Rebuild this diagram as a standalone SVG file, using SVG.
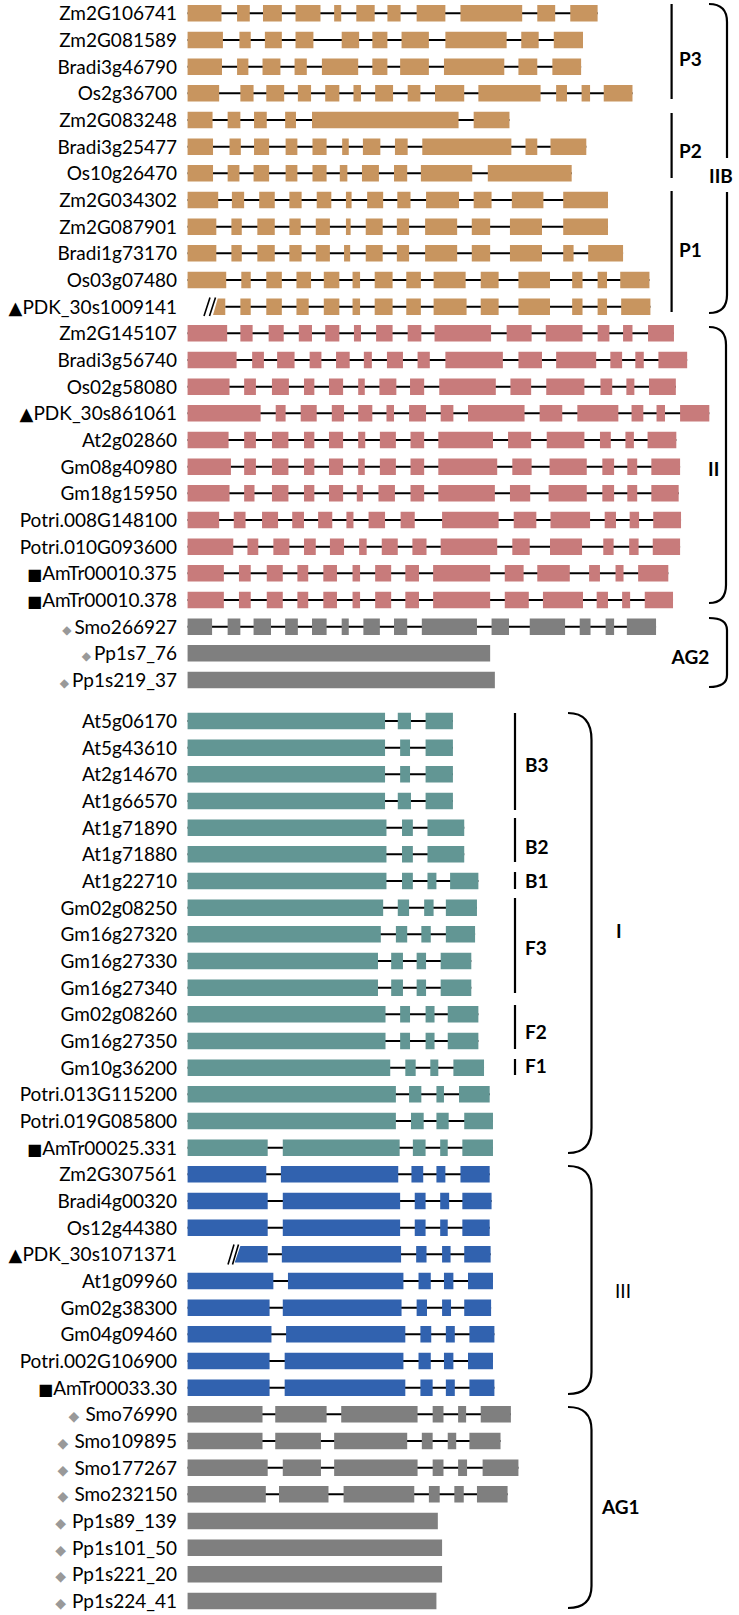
<svg xmlns="http://www.w3.org/2000/svg" width="739" height="1615" viewBox="0 0 739 1615">
<style>
text{font-family:Lato,"Liberation Sans",sans-serif;font-size:19px;fill:#000}
.nm{text-anchor:end}
.lb{font-weight:bold;text-anchor:start}
.lbn{text-anchor:start}
.in{fill:none;stroke:#000;stroke-width:2}
.tan .ex{fill:#C8955F}
.pink .ex{fill:#C87B7B}
.grey .ex{fill:#7F7F7F}
.teal .ex{fill:#629694}
.blue .ex{fill:#3162AF}
.br{fill:none;stroke:#000;stroke-width:2.2}
.sl{fill:none;stroke:#000;stroke-width:1.6}
.tri,.sq{font-family:"DejaVu Sans",sans-serif;font-size:18px}
.sq{font-size:16px}
.dia{font-family:"DejaVu Sans",sans-serif;font-size:12px;fill:#999}
.dia2{font-family:"DejaVu Sans",sans-serif;font-size:14px;fill:#999}
</style>
<rect width="739" height="1615" fill="#fff"/>

<g id="g-Zm2G106741" class="tan"><text class="nm" x="177" y="20.3">Zm2G106741</text><g transform="translate(0 13.3) scale(.4713 1)"><path class="in" d="M398 0H1268"/><path class="ex" d="M398-8.3H470V8.3H398Z M503-8.3H530V8.3H503Z M558-8.3H598V8.3H558Z M627-8.3H680V8.3H627Z M709-8.3H724V8.3H709Z M756-8.3H795V8.3H756Z M822-8.3H850V8.3H822Z M884-8.3H945V8.3H884Z M977-8.3H1108V8.3H977Z M1140-8.3H1178V8.3H1140Z M1210-8.3H1268V8.3H1210Z"/></g></g>
<g id="g-Zm2G081589" class="tan"><text class="nm" x="177" y="47">Zm2G081589</text><g transform="translate(0 40) scale(.4713 1)"><path class="in" d="M398 0H1237"/><path class="ex" d="M398-8.3H473V8.3H398Z M508-8.3H532V8.3H508Z M562-8.3H598V8.3H562Z M627-8.3H665V8.3H627Z M725-8.3H762V8.3H725Z M790-8.3H822V8.3H790Z M852-8.3H910V8.3H852Z M945-8.3H1075V8.3H945Z M1106-8.3H1143V8.3H1106Z M1175-8.3H1237V8.3H1175Z"/></g></g>
<g id="g-Bradi3g46790" class="tan"><text class="nm" x="177" y="73.7">Bradi3g46790</text><g transform="translate(0 66.7) scale(.4713 1)"><path class="in" d="M398 0H1233"/><path class="ex" d="M398-8.3H471V8.3H398Z M503-8.3H527V8.3H503Z M557-8.3H595V8.3H557Z M625-8.3H651V8.3H625Z M683-8.3H760V8.3H683Z M790-8.3H822V8.3H790Z M849-8.3H910V8.3H849Z M942-8.3H1070V8.3H942Z M1100-8.3H1140V8.3H1100Z M1172-8.3H1233V8.3H1172Z"/></g></g>
<g id="g-Os2g36700" class="tan"><text class="nm" x="177" y="100.3">Os2g36700</text><g transform="translate(0 93.3) scale(.4713 1)"><path class="in" d="M398 0H1342"/><path class="ex" d="M398-8.3H465V8.3H398Z M510-8.3H538V8.3H510Z M565-8.3H603V8.3H565Z M632-8.3H660V8.3H632Z M690-8.3H720V8.3H690Z M750-8.3H766V8.3H750Z M796-8.3H834V8.3H796Z M865-8.3H892V8.3H865Z M923-8.3H985V8.3H923Z M1015-8.3H1147V8.3H1015Z M1180-8.3H1203V8.3H1180Z M1234-8.3H1252V8.3H1234Z M1281-8.3H1342V8.3H1281Z"/></g></g>
<g id="g-Zm2G083248" class="tan"><text class="nm" x="177" y="127">Zm2G083248</text><g transform="translate(0 120) scale(.4713 1)"><path class="in" d="M398 0H1081"/><path class="ex" d="M398-8.3H451V8.3H398Z M483-8.3H510V8.3H483Z M539-8.3H566V8.3H539Z M605-8.3H628V8.3H605Z M662-8.3H973V8.3H662Z M1005-8.3H1081V8.3H1005Z"/></g></g>
<g id="g-Bradi3g25477" class="tan"><text class="nm" x="177" y="153.7">Bradi3g25477</text><g transform="translate(0 146.7) scale(.4713 1)"><path class="in" d="M398 0H1244"/><path class="ex" d="M398-8.3H452V8.3H398Z M487-8.3H511V8.3H487Z M539-8.3H571V8.3H539Z M606-8.3H631V8.3H606Z M663-8.3H693V8.3H663Z M726-8.3H740V8.3H726Z M770-8.3H807V8.3H770Z M838-8.3H865V8.3H838Z M896-8.3H1085V8.3H896Z M1115-8.3H1140V8.3H1115Z M1168-8.3H1244V8.3H1168Z"/></g></g>
<g id="g-Os10g26470" class="tan"><text class="nm" x="177" y="180.3">Os10g26470</text><g transform="translate(0 173.3) scale(.4713 1)"><path class="in" d="M398 0H1213"/><path class="ex" d="M398-8.3H452V8.3H398Z M483-8.3H508V8.3H483Z M538-8.3H571V8.3H538Z M606-8.3H631V8.3H606Z M663-8.3H693V8.3H663Z M721-8.3H737V8.3H721Z M768-8.3H804V8.3H768Z M836-8.3H864V8.3H836Z M893-8.3H1002V8.3H893Z M1035-8.3H1213V8.3H1035Z"/></g></g>
<g id="g-Zm2G034302" class="tan"><text class="nm" x="177" y="207">Zm2G034302</text><g transform="translate(0 200) scale(.4713 1)"><path class="in" d="M398 0H1290"/><path class="ex" d="M398-8.3H463V8.3H398Z M492-8.3H518V8.3H492Z M550-8.3H583V8.3H550Z M614-8.3H640V8.3H614Z M672-8.3H703V8.3H672Z M734-8.3H746V8.3H734Z M779-8.3H813V8.3H779Z M843-8.3H871V8.3H843Z M904-8.3H974V8.3H904Z M1005-8.3H1043V8.3H1005Z M1086-8.3H1153V8.3H1086Z M1195-8.3H1290V8.3H1195Z"/></g></g>
<g id="g-Zm2G087901" class="tan"><text class="nm" x="177" y="233.7">Zm2G087901</text><g transform="translate(0 226.7) scale(.4713 1)"><path class="in" d="M398 0H1290"/><path class="ex" d="M398-8.3H459V8.3H398Z M491-8.3H513V8.3H491Z M546-8.3H583V8.3H546Z M614-8.3H638V8.3H614Z M670-8.3H700V8.3H670Z M734-8.3H744V8.3H734Z M776-8.3H812V8.3H776Z M842-8.3H868V8.3H842Z M902-8.3H970V8.3H902Z M1001-8.3H1040V8.3H1001Z M1082-8.3H1150V8.3H1082Z M1195-8.3H1290V8.3H1195Z"/></g></g>
<g id="g-Bradi1g73170" class="tan"><text class="nm" x="177" y="260.3">Bradi1g73170</text><g transform="translate(0 253.3) scale(.4713 1)"><path class="in" d="M398 0H1322"/><path class="ex" d="M398-8.3H459V8.3H398Z M491-8.3H513V8.3H491Z M546-8.3H583V8.3H546Z M614-8.3H640V8.3H614Z M670-8.3H700V8.3H670Z M730-8.3H743V8.3H730Z M776-8.3H812V8.3H776Z M842-8.3H868V8.3H842Z M902-8.3H970V8.3H902Z M1001-8.3H1040V8.3H1001Z M1082-8.3H1150V8.3H1082Z M1195-8.3H1217V8.3H1195Z M1248-8.3H1322V8.3H1248Z"/></g></g>
<g id="g-Os03g07480" class="tan"><text class="nm" x="177" y="287">Os03g07480</text><g transform="translate(0 280) scale(.4713 1)"><path class="in" d="M398 0H1378"/><path class="ex" d="M398-8.3H480V8.3H398Z M512-8.3H532V8.3H512Z M565-8.3H598V8.3H565Z M629-8.3H660V8.3H629Z M687-8.3H720V8.3H687Z M748-8.3H764V8.3H748Z M795-8.3H833V8.3H795Z M862-8.3H893V8.3H862Z M920-8.3H988V8.3H920Z M1020-8.3H1058V8.3H1020Z M1100-8.3H1167V8.3H1100Z M1214-8.3H1236V8.3H1214Z M1268-8.3H1288V8.3H1268Z M1316-8.3H1378V8.3H1316Z"/></g></g>
<g id="g-PDK_30s1009141" class="tan"><text class="nm" x="177" y="313.7"><tspan class="tri">▲</tspan>PDK_30s1009141</text><path class="sl" d="M204 316L210 297.5M209.5 316L215.5 297.5"/><g transform="translate(0 306.7) scale(.4713 1)"><path class="in" d="M478 0H1380"/><path class="ex" d="M452 8.3L462-8.3H478V8.3Z M510-8.3H532V8.3H510Z M565-8.3H598V8.3H565Z M629-8.3H655V8.3H629Z M687-8.3H720V8.3H687Z M748-8.3H764V8.3H748Z M795-8.3H833V8.3H795Z M862-8.3H893V8.3H862Z M920-8.3H990V8.3H920Z M1020-8.3H1058V8.3H1020Z M1100-8.3H1167V8.3H1100Z M1214-8.3H1236V8.3H1214Z M1268-8.3H1288V8.3H1268Z M1318-8.3H1380V8.3H1318Z"/></g></g>

<g id="g-Zm2G145107" class="pink"><text class="nm" x="177" y="340.3">Zm2G145107</text><g transform="translate(0 333.3) scale(.4713 1)"><path class="in" d="M398 0H1430"/><path class="ex" d="M398-8.3H482V8.3H398Z M510-8.3H536V8.3H510Z M570-8.3H602V8.3H570Z M634-8.3H662V8.3H634Z M690-8.3H720V8.3H690Z M751-8.3H766V8.3H751Z M798-8.3H833V8.3H798Z M865-8.3H894V8.3H865Z M922-8.3H1042V8.3H922Z M1075-8.3H1128V8.3H1075Z M1158-8.3H1236V8.3H1158Z M1268-8.3H1293V8.3H1268Z M1322-8.3H1342V8.3H1322Z M1375-8.3H1430V8.3H1375Z"/></g></g>
<g id="g-Bradi3g56740" class="pink"><text class="nm" x="177" y="367">Bradi3g56740</text><g transform="translate(0 360) scale(.4713 1)"><path class="in" d="M398 0H1458"/><path class="ex" d="M398-8.3H502V8.3H398Z M535-8.3H560V8.3H535Z M588-8.3H625V8.3H588Z M657-8.3H682V8.3H657Z M713-8.3H742V8.3H713Z M772-8.3H789V8.3H772Z M821-8.3H855V8.3H821Z M886-8.3H912V8.3H886Z M945-8.3H1067V8.3H945Z M1100-8.3H1150V8.3H1100Z M1180-8.3H1265V8.3H1180Z M1295-8.3H1320V8.3H1295Z M1348-8.3H1366V8.3H1348Z M1397-8.3H1458V8.3H1397Z"/></g></g>
<g id="g-Os02g58080" class="pink"><text class="nm" x="177" y="393.7">Os02g58080</text><g transform="translate(0 386.7) scale(.4713 1)"><path class="in" d="M398 0H1434"/><path class="ex" d="M398-8.3H487V8.3H398Z M518-8.3H543V8.3H518Z M577-8.3H613V8.3H577Z M645-8.3H667V8.3H645Z M698-8.3H728V8.3H698Z M760-8.3H774V8.3H760Z M805-8.3H841V8.3H805Z M870-8.3H900V8.3H870Z M932-8.3H1052V8.3H932Z M1083-8.3H1127V8.3H1083Z M1159-8.3H1240V8.3H1159Z M1274-8.3H1299V8.3H1274Z M1329-8.3H1346V8.3H1329Z M1377-8.3H1434V8.3H1377Z"/></g></g>
<g id="g-PDK_30s861061" class="pink"><text class="nm" x="177" y="420.3"><tspan class="tri">▲</tspan>PDK_30s861061</text><g transform="translate(0 413.3) scale(.4713 1)"><path class="in" d="M398 0H1505"/><path class="ex" d="M398-8.3H553V8.3H398Z M585-8.3H606V8.3H585Z M638-8.3H672V8.3H638Z M704-8.3H730V8.3H704Z M760-8.3H790V8.3H760Z M820-8.3H836V8.3H820Z M868-8.3H904V8.3H868Z M935-8.3H962V8.3H935Z M993-8.3H1113V8.3H993Z M1145-8.3H1193V8.3H1145Z M1225-8.3H1312V8.3H1225Z M1340-8.3H1365V8.3H1340Z M1393-8.3H1411V8.3H1393Z M1443-8.3H1505V8.3H1443Z"/></g></g>
<g id="g-At2g02860" class="pink"><text class="nm" x="177" y="447">At2g02860</text><g transform="translate(0 440) scale(.4713 1)"><path class="in" d="M398 0H1435"/><path class="ex" d="M398-8.3H485V8.3H398Z M518-8.3H543V8.3H518Z M577-8.3H612V8.3H577Z M645-8.3H667V8.3H645Z M698-8.3H728V8.3H698Z M760-8.3H775V8.3H760Z M806-8.3H840V8.3H806Z M871-8.3H900V8.3H871Z M930-8.3H1046V8.3H930Z M1078-8.3H1127V8.3H1078Z M1160-8.3H1240V8.3H1160Z M1273-8.3H1296V8.3H1273Z M1327-8.3H1345V8.3H1327Z M1374-8.3H1435V8.3H1374Z"/></g></g>
<g id="g-Gm08g40980" class="pink"><text class="nm" x="177" y="473.7">Gm08g40980</text><g transform="translate(0 466.7) scale(.4713 1)"><path class="in" d="M398 0H1443"/><path class="ex" d="M398-8.3H490V8.3H398Z M518-8.3H543V8.3H518Z M577-8.3H612V8.3H577Z M645-8.3H667V8.3H645Z M698-8.3H728V8.3H698Z M760-8.3H774V8.3H760Z M806-8.3H840V8.3H806Z M871-8.3H900V8.3H871Z M930-8.3H1055V8.3H930Z M1087-8.3H1128V8.3H1087Z M1166-8.3H1245V8.3H1166Z M1278-8.3H1303V8.3H1278Z M1331-8.3H1352V8.3H1331Z M1382-8.3H1443V8.3H1382Z"/></g></g>
<g id="g-Gm18g15950" class="pink"><text class="nm" x="177" y="500.3">Gm18g15950</text><g transform="translate(0 493.3) scale(.4713 1)"><path class="in" d="M398 0H1440"/><path class="ex" d="M398-8.3H487V8.3H398Z M518-8.3H540V8.3H518Z M577-8.3H612V8.3H577Z M645-8.3H667V8.3H645Z M698-8.3H728V8.3H698Z M757-8.3H770V8.3H757Z M803-8.3H838V8.3H803Z M871-8.3H900V8.3H871Z M930-8.3H1050V8.3H930Z M1082-8.3H1125V8.3H1082Z M1164-8.3H1245V8.3H1164Z M1278-8.3H1303V8.3H1278Z M1331-8.3H1352V8.3H1331Z M1382-8.3H1440V8.3H1382Z"/></g></g>
<g id="g-Potri-008G148100" class="pink"><text class="nm" x="177" y="527">Potri.008G148100</text><g transform="translate(0 520) scale(.4713 1)"><path class="in" d="M398 0H1445"/><path class="ex" d="M398-8.3H465V8.3H398Z M496-8.3H521V8.3H496Z M556-8.3H590V8.3H556Z M620-8.3H645V8.3H620Z M675-8.3H705V8.3H675Z M735-8.3H750V8.3H735Z M782-8.3H817V8.3H782Z M850-8.3H880V8.3H850Z M938-8.3H1058V8.3H938Z M1090-8.3H1138V8.3H1090Z M1168-8.3H1252V8.3H1168Z M1283-8.3H1307V8.3H1283Z M1336-8.3H1356V8.3H1336Z M1386-8.3H1445V8.3H1386Z"/></g></g>
<g id="g-Potri-010G093600" class="pink"><text class="nm" x="177" y="553.7">Potri.010G093600</text><g transform="translate(0 546.7) scale(.4713 1)"><path class="in" d="M398 0H1443"/><path class="ex" d="M398-8.3H495V8.3H398Z M525-8.3H548V8.3H525Z M580-8.3H614V8.3H580Z M645-8.3H670V8.3H645Z M700-8.3H730V8.3H700Z M762-8.3H778V8.3H762Z M810-8.3H844V8.3H810Z M875-8.3H905V8.3H875Z M935-8.3H1055V8.3H935Z M1087-8.3H1124V8.3H1087Z M1167-8.3H1235V8.3H1167Z M1280-8.3H1302V8.3H1280Z M1335-8.3H1355V8.3H1335Z M1385-8.3H1443V8.3H1385Z"/></g></g>
<g id="g-AmTr00010-375" class="pink"><text class="nm" x="177" y="580.3"><tspan class="sq">■</tspan>AmTr00010.375</text><g transform="translate(0 573.3) scale(.4713 1)"><path class="in" d="M398 0H1418"/><path class="ex" d="M398-8.3H475V8.3H398Z M507-8.3H532V8.3H507Z M566-8.3H600V8.3H566Z M631-8.3H654V8.3H631Z M686-8.3H715V8.3H686Z M748-8.3H764V8.3H748Z M796-8.3H830V8.3H796Z M860-8.3H889V8.3H860Z M919-8.3H1040V8.3H919Z M1071-8.3H1111V8.3H1071Z M1140-8.3H1209V8.3H1140Z M1250-8.3H1273V8.3H1250Z M1306-8.3H1323V8.3H1306Z M1354-8.3H1418V8.3H1354Z"/></g></g>
<g id="g-AmTr00010-378" class="pink"><text class="nm" x="177" y="607"><tspan class="sq">■</tspan>AmTr00010.378</text><g transform="translate(0 600) scale(.4713 1)"><path class="in" d="M398 0H1428"/><path class="ex" d="M398-8.3H475V8.3H398Z M507-8.3H532V8.3H507Z M566-8.3H600V8.3H566Z M631-8.3H654V8.3H631Z M686-8.3H715V8.3H686Z M748-8.3H764V8.3H748Z M796-8.3H830V8.3H796Z M860-8.3H889V8.3H860Z M919-8.3H1040V8.3H919Z M1071-8.3H1122V8.3H1071Z M1152-8.3H1237V8.3H1152Z M1266-8.3H1290V8.3H1266Z M1320-8.3H1337V8.3H1320Z M1368-8.3H1428V8.3H1368Z"/></g></g>

<g id="g-Smo266927" class="grey"><text class="nm" x="177" y="633.7"><tspan class="dia">◆</tspan><tspan dx="3">Smo266927</tspan></text><g transform="translate(0 626.7) scale(.4713 1)"><path class="in" d="M398 0H1392"/><path class="ex" d="M398-8.3H450V8.3H398Z M483-8.3H510V8.3H483Z M538-8.3H575V8.3H538Z M605-8.3H632V8.3H605Z M662-8.3H693V8.3H662Z M725-8.3H740V8.3H725Z M771-8.3H806V8.3H771Z M836-8.3H864V8.3H836Z M895-8.3H1012V8.3H895Z M1043-8.3H1080V8.3H1043Z M1124-8.3H1199V8.3H1124Z M1230-8.3H1253V8.3H1230Z M1285-8.3H1303V8.3H1285Z M1330-8.3H1392V8.3H1330Z"/></g></g>
<g id="g-Pp1s7_76" class="grey"><text class="nm" x="177" y="660.3"><tspan class="dia">◆</tspan><tspan dx="3">Pp1s7_76</tspan></text><g transform="translate(0 653.3) scale(.4713 1)"><path class="ex" d="M398-8.3H1040V8.3H398Z"/></g></g>
<g id="g-Pp1s219_37" class="grey"><text class="nm" x="177" y="687"><tspan class="dia">◆</tspan><tspan dx="3">Pp1s219_37</tspan></text><g transform="translate(0 680) scale(.4713 1)"><path class="ex" d="M398-8.3H1050V8.3H398Z"/></g></g>

<g id="g-At5g06170" class="teal"><text class="nm" x="177" y="728">At5g06170</text><g transform="translate(0 721) scale(.4713 1)"><path class="in" d="M398 0H961"/><path class="ex" d="M398-8.3H817V8.3H398Z M844-8.3H872V8.3H844Z M903-8.3H961V8.3H903Z"/></g></g>
<g id="g-At5g43610" class="teal"><text class="nm" x="177" y="754.7">At5g43610</text><g transform="translate(0 747.7) scale(.4713 1)"><path class="in" d="M398 0H961"/><path class="ex" d="M398-8.3H817V8.3H398Z M849-8.3H870V8.3H849Z M903-8.3H961V8.3H903Z"/></g></g>
<g id="g-At2g14670" class="teal"><text class="nm" x="177" y="781.3">At2g14670</text><g transform="translate(0 774.3) scale(.4713 1)"><path class="in" d="M398 0H961"/><path class="ex" d="M398-8.3H817V8.3H398Z M849-8.3H870V8.3H849Z M903-8.3H961V8.3H903Z"/></g></g>
<g id="g-At1g66570" class="teal"><text class="nm" x="177" y="808">At1g66570</text><g transform="translate(0 801) scale(.4713 1)"><path class="in" d="M398 0H961"/><path class="ex" d="M398-8.3H817V8.3H398Z M844-8.3H872V8.3H844Z M903-8.3H961V8.3H903Z"/></g></g>
<g id="g-At1g71890" class="teal"><text class="nm" x="177" y="834.7">At1g71890</text><g transform="translate(0 827.7) scale(.4713 1)"><path class="in" d="M398 0H985"/><path class="ex" d="M398-8.3H820V8.3H398Z M853-8.3H876V8.3H853Z M907-8.3H985V8.3H907Z"/></g></g>
<g id="g-At1g71880" class="teal"><text class="nm" x="177" y="861.3">At1g71880</text><g transform="translate(0 854.3) scale(.4713 1)"><path class="in" d="M398 0H985"/><path class="ex" d="M398-8.3H820V8.3H398Z M853-8.3H876V8.3H853Z M907-8.3H985V8.3H907Z"/></g></g>
<g id="g-At1g22710" class="teal"><text class="nm" x="177" y="888">At1g22710</text><g transform="translate(0 881) scale(.4713 1)"><path class="in" d="M398 0H1015"/><path class="ex" d="M398-8.3H820V8.3H398Z M853-8.3H876V8.3H853Z M907-8.3H926V8.3H907Z M955-8.3H1015V8.3H955Z"/></g></g>
<g id="g-Gm02g08250" class="teal"><text class="nm" x="177" y="914.7">Gm02g08250</text><g transform="translate(0 907.7) scale(.4713 1)"><path class="in" d="M398 0H1012"/><path class="ex" d="M398-8.3H813V8.3H398Z M844-8.3H868V8.3H844Z M900-8.3H920V8.3H900Z M946-8.3H1012V8.3H946Z"/></g></g>
<g id="g-Gm16g27320" class="teal"><text class="nm" x="177" y="941.3">Gm16g27320</text><g transform="translate(0 934.3) scale(.4713 1)"><path class="in" d="M398 0H1008"/><path class="ex" d="M398-8.3H808V8.3H398Z M840-8.3H864V8.3H840Z M894-8.3H914V8.3H894Z M946-8.3H1008V8.3H946Z"/></g></g>
<g id="g-Gm16g27330" class="teal"><text class="nm" x="177" y="968">Gm16g27330</text><g transform="translate(0 961) scale(.4713 1)"><path class="in" d="M398 0H1000"/><path class="ex" d="M398-8.3H802V8.3H398Z M830-8.3H855V8.3H830Z M884-8.3H904V8.3H884Z M935-8.3H1000V8.3H935Z"/></g></g>
<g id="g-Gm16g27340" class="teal"><text class="nm" x="177" y="994.7">Gm16g27340</text><g transform="translate(0 987.7) scale(.4713 1)"><path class="in" d="M398 0H1000"/><path class="ex" d="M398-8.3H802V8.3H398Z M830-8.3H855V8.3H830Z M884-8.3H904V8.3H884Z M935-8.3H1000V8.3H935Z"/></g></g>
<g id="g-Gm02g08260" class="teal"><text class="nm" x="177" y="1021.3">Gm02g08260</text><g transform="translate(0 1014.3) scale(.4713 1)"><path class="in" d="M398 0H1015"/><path class="ex" d="M398-8.3H818V8.3H398Z M849-8.3H870V8.3H849Z M903-8.3H922V8.3H903Z M950-8.3H1015V8.3H950Z"/></g></g>
<g id="g-Gm16g27350" class="teal"><text class="nm" x="177" y="1048">Gm16g27350</text><g transform="translate(0 1041) scale(.4713 1)"><path class="in" d="M398 0H1015"/><path class="ex" d="M398-8.3H818V8.3H398Z M849-8.3H870V8.3H849Z M903-8.3H922V8.3H903Z M950-8.3H1015V8.3H950Z"/></g></g>
<g id="g-Gm10g36200" class="teal"><text class="nm" x="177" y="1074.7">Gm10g36200</text><g transform="translate(0 1067.7) scale(.4713 1)"><path class="in" d="M398 0H1027"/><path class="ex" d="M398-8.3H828V8.3H398Z M860-8.3H882V8.3H860Z M913-8.3H930V8.3H913Z M962-8.3H1027V8.3H962Z"/></g></g>
<g id="g-Potri-013G115200" class="teal"><text class="nm" x="177" y="1101.3">Potri.013G115200</text><g transform="translate(0 1094.3) scale(.4713 1)"><path class="in" d="M398 0H1039"/><path class="ex" d="M398-8.3H840V8.3H398Z M868-8.3H894V8.3H868Z M926-8.3H942V8.3H926Z M974-8.3H1039V8.3H974Z"/></g></g>
<g id="g-Potri-019G085800" class="teal"><text class="nm" x="177" y="1128">Potri.019G085800</text><g transform="translate(0 1121) scale(.4713 1)"><path class="in" d="M398 0H1046"/><path class="ex" d="M398-8.3H840V8.3H398Z M872-8.3H899V8.3H872Z M926-8.3H952V8.3H926Z M985-8.3H1046V8.3H985Z"/></g></g>
<g id="g-AmTr00025-331" class="teal"><text class="nm" x="177" y="1154.7"><tspan class="sq">■</tspan>AmTr00025.331</text><g transform="translate(0 1147.7) scale(.4713 1)"><path class="in" d="M398 0H1046"/><path class="ex" d="M398-8.3H568V8.3H398Z M600-8.3H848V8.3H600Z M876-8.3H903V8.3H876Z M934-8.3H950V8.3H934Z M981-8.3H1046V8.3H981Z"/></g></g>

<g id="g-Zm2G307561" class="blue"><text class="nm" x="177" y="1181.3">Zm2G307561</text><g transform="translate(0 1174.3) scale(.4713 1)"><path class="in" d="M398 0H1039"/><path class="ex" d="M398-8.3H565V8.3H398Z M596-8.3H845V8.3H596Z M873-8.3H898V8.3H873Z M926-8.3H945V8.3H926Z M977-8.3H1039V8.3H977Z"/></g></g>
<g id="g-Bradi4g00320" class="blue"><text class="nm" x="177" y="1208">Bradi4g00320</text><g transform="translate(0 1201) scale(.4713 1)"><path class="in" d="M398 0H1043"/><path class="ex" d="M398-8.3H568V8.3H398Z M600-8.3H849V8.3H600Z M880-8.3H903V8.3H880Z M934-8.3H953V8.3H934Z M981-8.3H1043V8.3H981Z"/></g></g>
<g id="g-Os12g44380" class="blue"><text class="nm" x="177" y="1234.7">Os12g44380</text><g transform="translate(0 1227.7) scale(.4713 1)"><path class="in" d="M398 0H1039"/><path class="ex" d="M398-8.3H568V8.3H398Z M600-8.3H849V8.3H600Z M880-8.3H903V8.3H880Z M934-8.3H950V8.3H934Z M981-8.3H1039V8.3H981Z"/></g></g>
<g id="g-PDK_30s1071371" class="blue"><text class="nm" x="177" y="1261.3"><tspan class="tri">▲</tspan>PDK_30s1071371</text><path class="sl" d="M228 1264.5L234 1244.5M232.5 1264.5L238.5 1244.5"/><g transform="translate(0 1254.3) scale(.4713 1)"><path class="in" d="M568 0H1041"/><path class="ex" d="M498 8.3L510-8.3H568V8.3Z M598-8.3H851V8.3H598Z M883-8.3H905V8.3H883Z M938-8.3H956V8.3H938Z M985-8.3H1041V8.3H985Z"/></g></g>
<g id="g-At1g09960" class="blue"><text class="nm" x="177" y="1288">At1g09960</text><g transform="translate(0 1281) scale(.4713 1)"><path class="in" d="M398 0H1046"/><path class="ex" d="M398-8.3H580V8.3H398Z M611-8.3H856V8.3H611Z M888-8.3H914V8.3H888Z M942-8.3H962V8.3H942Z M993-8.3H1046V8.3H993Z"/></g></g>
<g id="g-Gm02g38300" class="blue"><text class="nm" x="177" y="1314.7">Gm02g38300</text><g transform="translate(0 1307.7) scale(.4713 1)"><path class="in" d="M398 0H1042"/><path class="ex" d="M398-8.3H572V8.3H398Z M600-8.3H852V8.3H600Z M884-8.3H906V8.3H884Z M938-8.3H957V8.3H938Z M985-8.3H1042V8.3H985Z"/></g></g>
<g id="g-Gm04g09460" class="blue"><text class="nm" x="177" y="1341.3">Gm04g09460</text><g transform="translate(0 1334.3) scale(.4713 1)"><path class="in" d="M398 0H1049"/><path class="ex" d="M398-8.3H576V8.3H398Z M607-8.3H860V8.3H607Z M892-8.3H915V8.3H892Z M946-8.3H965V8.3H946Z M996-8.3H1049V8.3H996Z"/></g></g>
<g id="g-Potri-002G106900" class="blue"><text class="nm" x="177" y="1368">Potri.002G106900</text><g transform="translate(0 1361) scale(.4713 1)"><path class="in" d="M398 0H1046"/><path class="ex" d="M398-8.3H572V8.3H398Z M604-8.3H856V8.3H604Z M888-8.3H914V8.3H888Z M942-8.3H962V8.3H942Z M993-8.3H1046V8.3H993Z"/></g></g>
<g id="g-AmTr00033-30" class="blue"><text class="nm" x="177" y="1394.7"><tspan class="sq">■</tspan>AmTr00033.30</text><g transform="translate(0 1387.7) scale(.4713 1)"><path class="in" d="M398 0H1049"/><path class="ex" d="M398-8.3H572V8.3H398Z M604-8.3H860V8.3H604Z M892-8.3H918V8.3H892Z M946-8.3H965V8.3H946Z M996-8.3H1049V8.3H996Z"/></g></g>

<g id="g-Smo76990" class="grey"><text class="nm" x="177" y="1421.3"><tspan class="dia2">◆</tspan><tspan dx="6">Smo76990</tspan></text><g transform="translate(0 1414.3) scale(.4713 1)"><path class="in" d="M398 0H1084"/><path class="ex" d="M398-8.3H557V8.3H398Z M584-8.3H693V8.3H584Z M724-8.3H886V8.3H724Z M918-8.3H941V8.3H918Z M972-8.3H989V8.3H972Z M1020-8.3H1084V8.3H1020Z"/></g></g>
<g id="g-Smo109895" class="grey"><text class="nm" x="177" y="1448"><tspan class="dia2">◆</tspan><tspan dx="6">Smo109895</tspan></text><g transform="translate(0 1441) scale(.4713 1)"><path class="in" d="M398 0H1062"/><path class="ex" d="M398-8.3H557V8.3H398Z M584-8.3H681V8.3H584Z M709-8.3H864V8.3H709Z M895-8.3H918V8.3H895Z M950-8.3H968V8.3H950Z M996-8.3H1062V8.3H996Z"/></g></g>
<g id="g-Smo177267" class="grey"><text class="nm" x="177" y="1474.7"><tspan class="dia2">◆</tspan><tspan dx="6">Smo177267</tspan></text><g transform="translate(0 1467.7) scale(.4713 1)"><path class="in" d="M398 0H1100"/><path class="ex" d="M398-8.3H568V8.3H398Z M600-8.3H681V8.3H600Z M709-8.3H886V8.3H709Z M918-8.3H941V8.3H918Z M972-8.3H991V8.3H972Z M1024-8.3H1100V8.3H1024Z"/></g></g>
<g id="g-Smo232150" class="grey"><text class="nm" x="177" y="1501.3"><tspan class="dia2">◆</tspan><tspan dx="6">Smo232150</tspan></text><g transform="translate(0 1494.3) scale(.4713 1)"><path class="in" d="M398 0H1077"/><path class="ex" d="M398-8.3H564V8.3H398Z M592-8.3H697V8.3H592Z M729-8.3H879V8.3H729Z M910-8.3H933V8.3H910Z M964-8.3H984V8.3H964Z M1012-8.3H1077V8.3H1012Z"/></g></g>
<g id="g-Pp1s89_139" class="grey"><text class="nm" x="177" y="1528"><tspan class="dia2">◆</tspan><tspan dx="6">Pp1s89_139</tspan></text><g transform="translate(0 1521) scale(.4713 1)"><path class="ex" d="M398-8.3H929V8.3H398Z"/></g></g>
<g id="g-Pp1s101_50" class="grey"><text class="nm" x="177" y="1554.7"><tspan class="dia2">◆</tspan><tspan dx="6">Pp1s101_50</tspan></text><g transform="translate(0 1547.7) scale(.4713 1)"><path class="ex" d="M398-8.3H938V8.3H398Z"/></g></g>
<g id="g-Pp1s221_20" class="grey"><text class="nm" x="177" y="1581.3"><tspan class="dia2">◆</tspan><tspan dx="6">Pp1s221_20</tspan></text><g transform="translate(0 1574.3) scale(.4713 1)"><path class="ex" d="M398-8.3H938V8.3H398Z"/></g></g>
<g id="g-Pp1s224_41" class="grey"><text class="nm" x="177" y="1608"><tspan class="dia2">◆</tspan><tspan dx="6">Pp1s224_41</tspan></text><g transform="translate(0 1601) scale(.4713 1)"><path class="ex" d="M398-8.3H926V8.3H398Z"/></g></g>

<g id="connectors">
<path class="br" d="M671.6 4V99 M671.6 113V178 M671.6 191V312"/>
<path class="br" d="M709 4Q727 4 727 22V158 M727 192V295Q727 313 709 313"/>
<path class="br" d="M709 327Q726 327 726 345V585Q726 603 709 603"/>
<path class="br" d="M709 618Q727 618 727 630V675Q727 687 709 687"/>
<path class="br" d="M515 713V810 M515 818V862 M515 872V889 M515 898V993 M515 1005V1049 M515 1059V1075"/>
<path class="br" d="M568 713Q591.5 713 591.5 740V1128Q591.5 1153 568 1153"/>
<path class="br" d="M568 1166Q591.5 1166 591.5 1190V1372Q591.5 1394 568 1394"/>
<path class="br" d="M568 1407Q591.5 1407 591.5 1430V1586Q591.5 1608 568 1608"/>
</g>
<g id="labels">
<text class="lb" x="679" y="66">P3</text>
<text class="lb" x="679" y="158">P2</text>
<text class="lb" x="679" y="257">P1</text>
<text class="lb" x="709" y="183">IIB</text>
<text class="lb" x="708" y="475.5">II</text>
<text class="lb" x="671.6" y="664">AG2</text>
<text class="lb" x="525" y="772">B3</text>
<text class="lb" x="525" y="854">B2</text>
<text class="lb" x="525" y="888">B1</text>
<text class="lb" x="525" y="955">F3</text>
<text class="lb" x="525" y="1039">F2</text>
<text class="lb" x="525" y="1073">F1</text>
<text class="lb" x="616" y="938">I</text>
<text class="lbn" x="615" y="1298">III</text>
<text class="lb" x="602" y="1514">AG1</text>
</g>
</svg>
